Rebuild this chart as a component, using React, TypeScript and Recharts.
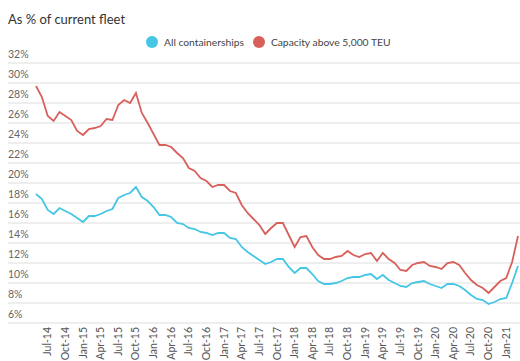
import { LineChart, Line, XAxis, YAxis, CartesianGrid } from "recharts";

// monthly, May-14 .. Mar-21
const monthNames = ["Jan", "Feb", "Mar", "Apr", "May", "Jun", "Jul", "Aug", "Sep", "Oct", "Nov", "Dec"];
const months: string[] = Array.from({ length: 83 }, (_, i) => {
  const k = 4 + i;
  return `${monthNames[k % 12]}-${14 + Math.floor(k / 12)}`;
});

const allShips = [
  18.9, 18.4, 17.3, 16.9, 17.5, 17.2, 16.9, 16.5, 16.1, 16.7, 16.7, 16.9, 17.2, 17.4, 18.5, 18.8,
  19.0, 19.6, 18.6, 18.2, 17.6, 16.8, 16.8, 16.6, 16.0, 15.9, 15.5, 15.4, 15.1, 15.0, 14.8, 15.0,
  15.0, 14.5, 14.4, 13.6, 13.1, 12.7, 12.3, 11.9, 12.1, 12.4, 12.4, 11.6, 11.0, 11.5, 11.5, 10.9,
  10.2, 9.9, 9.9, 10.0, 10.2, 10.5, 10.6, 10.6, 10.8, 10.9, 10.4, 10.8, 10.3, 10.0, 9.7, 9.6,
  10.0, 10.1, 10.2, 9.9, 9.7, 9.5, 9.9, 9.9, 9.7, 9.3, 8.8, 8.4, 8.3, 7.9, 8.1, 8.4, 8.5, 10.0, 11.7,
];

const above5000 = [
  29.7, 28.6, 26.7, 26.2, 27.1, 26.7, 26.3, 25.2, 24.8, 25.4, 25.5, 25.7, 26.4, 26.3, 27.8, 28.3,
  28.0, 29.0, 27.0, 26.0, 24.9, 23.8, 23.8, 23.6, 23.0, 22.5, 21.5, 21.2, 20.5, 20.2, 19.6, 19.8,
  19.8, 19.2, 19.0, 17.8, 17.0, 16.4, 15.8, 14.9, 15.5, 16.0, 16.0, 14.8, 13.6, 14.6, 14.7, 13.6,
  12.8, 12.4, 12.4, 12.6, 12.7, 13.2, 12.8, 12.6, 12.9, 13.0, 12.2, 13.0, 12.4, 12.0, 11.3, 11.2,
  11.8, 12.0, 12.1, 11.7, 11.6, 11.4, 12.0, 12.1, 11.8, 11.0, 10.3, 9.8, 9.5, 9.0, 9.6, 10.2, 10.5, 12.1, 14.7,
];

const quarterTicks = [
  "Jul-14", "Oct-14", "Jan-15", "Apr-15", "Jul-15", "Oct-15", "Jan-16", "Apr-16", "Jul-16",
  "Oct-16", "Jan-17", "Apr-17", "Jul-17", "Oct-17", "Jan-18", "Apr-18", "Jul-18", "Oct-18",
  "Jan-19", "Apr-19", "Jul-19", "Oct-19", "Jan-20", "Apr-20", "Jul-20", "Oct-20", "Jan-21",
];

const yTicks = [6, 8, 10, 12, 14, 16, 18, 20, 22, 24, 26, 28, 30, 32];

const BLUE = "#45c6e4";
const RED = "#d8605b";
const FONT = "Lato, 'Noto Sans', sans-serif";

const data = months.map((m, i) => ({ month: m, all: allShips[i], big: above5000[i] }));

function YTick(props: any) {
  const { y, payload } = props;
  return (
    <text x={8} y={y - 5} fill="#666" fontSize={10.5} fontFamily={FONT} textAnchor="start">
      {payload.value}%
    </text>
  );
}

function XTick(props: any) {
  const { x, y, payload } = props;
  const ty = y + 4;
  return (
    <text
      x={x}
      y={ty}
      dy={3.5}
      transform={`rotate(-90, ${x}, ${ty})`}
      textAnchor="end"
      fill="#555"
      fontSize={10.5}
      fontFamily={FONT}
    >
      {payload.value}
    </text>
  );
}

function LegendItem({ color, label }: { color: string; label: string }) {
  return (
    <div style={{ display: "flex", alignItems: "center", marginRight: 9 }}>
      <span
        style={{ width: 12, height: 12, borderRadius: 6, background: color, marginRight: 6, display: "inline-block" }}
      />
      <span>{label}</span>
    </div>
  );
}

export default function App() {
  return (
    <div
      style={{
        position: "absolute",
        left: 0,
        top: 0,
        width: 520,
        height: 361,
        background: "#fff",
        fontFamily: FONT,
        overflow: "hidden",
      }}
    >
      <div style={{ position: "absolute", left: 8, top: 11, fontSize: 13, color: "#333" }}>
        As % of current fleet
      </div>
      <div
        style={{
          position: "absolute",
          left: 146,
          top: 36,
          display: "flex",
          fontSize: 10.3,
          color: "#444",
        }}
      >
        <LegendItem color={BLUE} label="All containerships" />
        <LegendItem color={RED} label="Capacity above 5,000 TEU" />
      </div>
      <LineChart width={520} height={361} data={data} margin={{ top: 63, right: 0, left: -22, bottom: 0 }}>
        <CartesianGrid vertical={false} stroke="#dddddd" />
        <XAxis
          dataKey="month"
          ticks={quarterTicks}
          interval={0}
          height={38}
          padding={{ left: 28, right: 2 }}
          axisLine={false}
          tickLine={false}
          tickSize={0}
          tickMargin={0}
          tick={<XTick />}
        />
        <YAxis
          width={30}
          domain={[6, 32]}
          ticks={yTicks}
          interval={0}
          axisLine={false}
          tickLine={false}
          tick={<YTick />}
        />
        <Line type="linear" dataKey="all" stroke={BLUE} strokeWidth={1.8} dot={false} isAnimationActive={false} />
        <Line type="linear" dataKey="big" stroke={RED} strokeWidth={1.8} dot={false} isAnimationActive={false} />
      </LineChart>
    </div>
  );
}
